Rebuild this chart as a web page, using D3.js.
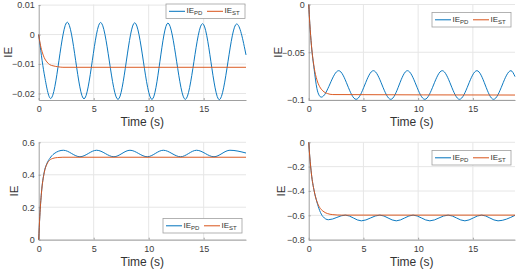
<!DOCTYPE html>
<html>
<head>
<meta charset="utf-8">
<script src="https://cdn.jsdelivr.net/npm/d3@7"></script>
<style>
  body { margin: 0; background: #fff; }
  svg { display: block; font-family: "Liberation Sans", Arial, sans-serif; }
</style>
</head>
<body>
<svg id="chart" width="516" height="271"></svg>
<script>
// values
const xTicks = [0, 5, 10, 15];
const tMax = 18.85;

// panel 1 (top left)
const p1PdTime = [0, 0.5, 1.09, 2.6, 4.12, 5.63, 7.21, 8.73, 10.3, 11.75, 13.33, 14.9, 16.42, 18.0, 18.85];
const p1PdVal = [0, -0.0133, -0.0217, 0.0042, -0.0218, 0.0041, -0.022, 0.004, -0.022, 0.0039, -0.022, 0.0037, -0.0221, 0.0036, -0.0069];
const p1StTime = [0, 0.1, 0.25, 0.5, 0.75, 1.0, 1.3, 1.7, 2.2, 18.85];
const p1StVal = [0, -0.0024, -0.005, -0.0078, -0.0093, -0.0102, -0.0106, -0.0109, -0.0111, -0.0111];
const p1Ticks = [0.01, 0, -0.01, -0.02];

// panel 2 (top right)
const p2PdTime = [0, 0.1, 0.25, 0.5, 0.75, 0.95, 1.15, 2.74, 4.33, 5.91, 7.5, 9.02, 10.61, 12.2, 13.78, 15.37, 16.89, 18.48, 18.85];
const p2PdVal = [0, -0.02, -0.043, -0.068, -0.088, -0.095, -0.097, -0.0693, -0.0993, -0.0693, -0.0993, -0.0693, -0.0993, -0.0693, -0.0993, -0.0693, -0.0993, -0.0693, -0.0755];
const p2StTime = [0, 0.1, 0.25, 0.5, 0.75, 1.0, 1.3, 1.7, 2.2, 18.85];
const p2StVal = [0, -0.02, -0.0426, -0.066, -0.0789, -0.086, -0.0905, -0.0932, -0.0943, -0.0948];
const p2Ticks = [0, -0.05, -0.1];

// panel 3 (bottom left)
const p3PdTime = [0, 0.1, 0.25, 0.5, 0.75, 1.0, 1.4, 2.24, 3.75, 5.27, 6.84, 8.3, 9.87, 11.33, 12.9, 14.36, 15.94, 17.39, 18.85];
const p3PdVal = [0, 0.144, 0.29, 0.415, 0.47, 0.5, 0.53, 0.551, 0.511, 0.551, 0.511, 0.551, 0.511, 0.551, 0.511, 0.551, 0.511, 0.551, 0.534];
const p3StTime = [0, 0.1, 0.25, 0.5, 0.75, 1.0, 1.3, 1.7, 2.2, 18.85];
const p3StVal = [0, 0.144, 0.287, 0.412, 0.466, 0.49, 0.501, 0.506, 0.508, 0.508];
const p3Ticks = [0, 0.2, 0.4, 0.6];

// panel 4 (bottom right)
const p4PdTime = [0, 0.1, 0.25, 0.5, 0.75, 1.0, 1.3, 1.8, 3.35, 4.81, 6.5, 8.0, 9.54, 11.07, 12.74, 14.27, 15.8, 17.3, 18.85];
const p4PdVal = [0, -0.12, -0.26, -0.40, -0.49, -0.56, -0.61, -0.636, -0.598, -0.645, -0.598, -0.645, -0.598, -0.645, -0.598, -0.645, -0.598, -0.645, -0.6];
const p4StTime = [0, 0.1, 0.25, 0.5, 0.75, 1.0, 1.3, 1.7, 2.2, 3.0, 18.85];
const p4StVal = [0, -0.12, -0.26, -0.40, -0.486, -0.535, -0.565, -0.585, -0.594, -0.598, -0.598];
const p4Ticks = [0, -0.2, -0.4, -0.6, -0.8];

const blue = '#0072BD';
const orange = '#D95319';
const axisGrey = '#a0a0a0';

const zip = (ts, vs) => ts.map((t, i) => ({ t: t, v: vs[i] }));

const panels = [
  { box: [38.7, 4.5, 246, 100], y: [-0.0222, 0.0102], ticks: p1Ticks,
    pd: zip(p1PdTime, p1PdVal), st: zip(p1StTime, p1StVal), legend: [166, 4], ylab: 7.5 },
  { box: [308.7, 4.5, 515, 100], y: [-0.1, 0], ticks: p2Ticks,
    pd: zip(p2PdTime, p2PdVal), st: zip(p2StTime, p2StVal), legend: [432, 12.5], ylab: 278 },
  { box: [38.7, 142.3, 246, 239.7], y: [0, 0.6], ticks: p3Ticks,
    pd: zip(p3PdTime, p3PdVal), st: zip(p3StTime, p3StVal), legend: [163, 218.5], ylab: 14 },
  { box: [308.7, 142.3, 515, 239.7], y: [-0.8, 0], ticks: p4Ticks,
    pd: zip(p4PdTime, p4PdVal), st: zip(p4StTime, p4StVal), legend: [432, 150.5], ylab: 281 }
];

const svg = d3.select('#chart');

panels.forEach(function (p) {
  const [x0, y0, x1, y1] = p.box;
  const x = d3.scaleLinear().domain([0, tMax]).range([x0, x1]);
  const y = d3.scaleLinear().domain(p.y).range([y1, y0]);
  const g = svg.append('g');

  // grid
  g.selectAll('.gx').data(xTicks.filter(d => d > 0)).enter().append('line')
    .attr('x1', d => x(d)).attr('x2', d => x(d))
    .attr('y1', y0).attr('y2', y1)
    .attr('stroke', '#e6e6e6').attr('stroke-width', 1);
  g.selectAll('.gy').data(p.ticks).enter().append('line')
    .attr('x1', x0).attr('x2', x1)
    .attr('y1', d => y(d)).attr('y2', d => y(d))
    .attr('stroke', '#e6e6e6').attr('stroke-width', 1);

  // axes
  const ax = g.append('g').attr('transform', 'translate(0,' + y1 + ')')
    .call(d3.axisBottom(x).tickValues(xTicks).tickSize(-2).tickPadding(6).tickSizeOuter(0));
  const ay = g.append('g').attr('transform', 'translate(' + x0 + ',0)')
    .call(d3.axisLeft(y).tickValues(p.ticks).tickSize(-2).tickPadding(4).tickSizeOuter(0)
      .tickFormat(d3.format('~g')));
  [ax, ay].forEach(function (a) {
    a.select('.domain').attr('stroke', axisGrey);
    a.selectAll('.tick line').attr('stroke', axisGrey);
    a.selectAll('.tick text').attr('fill', '#3c3c3c').attr('font-size', 9)
      .attr('font-family', '"Liberation Sans", Arial, sans-serif');
  });

  // lines
  const line = d3.line().x(d => x(d.t)).y(d => y(d.v)).curve(d3.curveMonotoneX);
  g.append('path').datum(p.pd).attr('d', line)
    .attr('fill', 'none').attr('stroke', blue).attr('stroke-width', 0.95);
  g.append('path').datum(p.st).attr('d', line)
    .attr('fill', 'none').attr('stroke', orange).attr('stroke-width', 0.95);

  // labels
  g.append('text').attr('x', (x0 + x1) / 2).attr('y', y1 + 26)
    .attr('text-anchor', 'middle').attr('font-size', 12).attr('fill', '#333')
    .text('Time (s)');
  g.append('text')
    .attr('transform', 'translate(' + (p.ylab + 4) + ',' + ((y0 + y1) / 2) + ') rotate(-90)')
    .attr('text-anchor', 'middle').attr('font-size', 11.5).attr('fill', '#333')
    .text('IE');

  // legend
  const [lx, ly] = p.legend;
  const lg = g.append('g').attr('transform', 'translate(' + lx + ',' + ly + ')');
  lg.append('rect').attr('width', 79).attr('height', 14.5)
    .attr('fill', '#fff').attr('stroke', axisGrey).attr('stroke-width', 0.8);
  const items = [{ c: blue, s: 'PD', dx: 3 }, { c: orange, s: 'ST', dx: 41 }];
  items.forEach(function (it) {
    lg.append('line').attr('x1', it.dx).attr('x2', it.dx + 16)
      .attr('y1', 7.3).attr('y2', 7.3).attr('stroke', it.c).attr('stroke-width', 1);
    const t = lg.append('text').attr('x', it.dx + 17.5).attr('y', 9.3)
      .attr('font-size', 8).attr('fill', '#333');
    t.append('tspan').text('IE');
    t.append('tspan').attr('dy', 2).attr('font-size', 6).text(it.s);
  });
});
</script>
</body>
</html>
